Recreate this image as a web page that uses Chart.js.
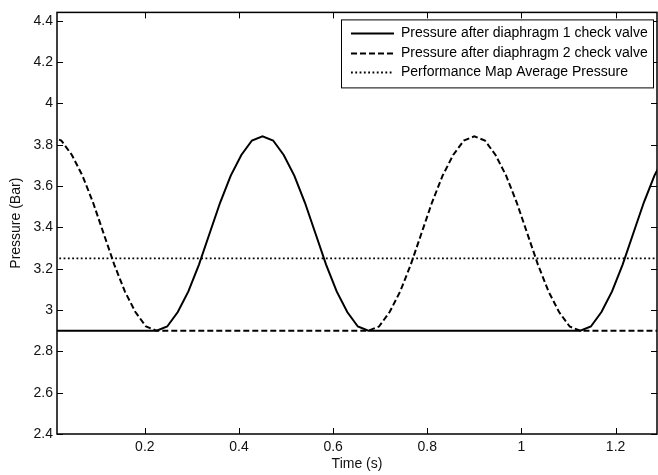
<!DOCTYPE html>
<html>
<head>
<meta charset="utf-8">
<script src="https://cdn.jsdelivr.net/npm/chart.js@4.4.0/dist/chart.umd.min.js"></script>
<style>
    body { margin: 0; background: #fff; }
    #wrap { width: 658px; height: 475px; }
</style>
</head>
<body>
<div id="wrap"><canvas id="chartPressure" width="658" height="475"></canvas></div>
<script>
// Tiempo (s)
const tiempo = [
    0, 0.0225, 0.045, 0.0675, 0.09, 0.1125, 0.135, 0.1575, 0.18, 0.2025,
    0.225, 0.2475, 0.27, 0.2925, 0.315, 0.3375, 0.36, 0.3825, 0.405, 0.4275,
    0.45, 0.4725, 0.495, 0.5175, 0.54, 0.5625, 0.585, 0.6075, 0.63, 0.6525,
    0.675, 0.6975, 0.72, 0.7425, 0.765, 0.7875, 0.81, 0.8325, 0.855, 0.8775,
    0.9, 0.9225, 0.945, 0.9675, 0.99, 1.0125, 1.035, 1.0575, 1.08, 1.1025,
    1.125, 1.1475, 1.17, 1.1925, 1.215, 1.2375, 1.26, 1.2825, 1.305
];

// Presion despues de la valvula del diafragma 1 (Bar)
const presionDiafragma1 = [
    2.90, 2.90, 2.90, 2.90, 2.90, 2.90, 2.90, 2.90, 2.90, 2.90,
    2.90, 2.92, 2.99, 3.09, 3.22, 3.37, 3.52, 3.65, 3.75, 3.82,
    3.84, 3.82, 3.75, 3.65, 3.52, 3.37, 3.22, 3.09, 2.99, 2.92,
    2.90, 2.90, 2.90, 2.90, 2.90, 2.90, 2.90, 2.90, 2.90, 2.90,
    2.90, 2.90, 2.90, 2.90, 2.90, 2.90, 2.90, 2.90, 2.90, 2.90,
    2.90, 2.92, 2.99, 3.09, 3.22, 3.37, 3.52, 3.65, 3.75
];

// Presion despues de la valvula del diafragma 2 (Bar)
const presionDiafragma2 = [
    3.84, 3.82, 3.75, 3.65, 3.52, 3.37, 3.22, 3.09, 2.99, 2.92,
    2.90, 2.90, 2.90, 2.90, 2.90, 2.90, 2.90, 2.90, 2.90, 2.90,
    2.90, 2.90, 2.90, 2.90, 2.90, 2.90, 2.90, 2.90, 2.90, 2.90,
    2.90, 2.92, 2.99, 3.09, 3.22, 3.37, 3.52, 3.65, 3.75, 3.82,
    3.84, 3.82, 3.75, 3.65, 3.52, 3.37, 3.22, 3.09, 2.99, 2.92,
    2.90, 2.90, 2.90, 2.90, 2.90, 2.90, 2.90, 2.90, 2.90
];

// Presion media del mapa de rendimiento
const tiempoPromedio = [0, 1.305];
const presionPromedio = [3.25, 3.25];

// Ticks de los ejes
const ticksX = [0.2, 0.4, 0.6, 0.8, 1, 1.2];
const ticksY = [2.4, 2.6, 2.8, 3, 3.2, 3.4, 3.6, 3.8, 4, 4.2, 4.4];

const fuente = { family: '"Liberation Sans", Arial, Helvetica, sans-serif', size: 14 };

const puntos = (xs, ys) => xs.map((x, i) => ({ x: x, y: ys[i] }));
// Etiquetas sin ceros sobrantes (3 en vez de 3.0)
const etiqueta = v => String(parseFloat(Number(v).toFixed(2)));

// Marco y ticks hacia dentro (estilo MATLAB)
const marcoMatlab = {
    id: 'marcoMatlab',
    afterDatasetsDraw(chart) {
        const { ctx, chartArea: a, scales: { x, y } } = chart;
        const linea = (x1, y1, x2, y2) => {
            ctx.beginPath();
            ctx.moveTo(x1, y1);
            ctx.lineTo(x2, y2);
            ctx.stroke();
        };
        ctx.save();
        ctx.strokeStyle = '#000';
        ctx.lineWidth = 1.5;
        ctx.strokeRect(a.left, a.top, a.right - a.left, a.bottom - a.top);
        ctx.lineWidth = 1;
        x.ticks.forEach(t => {
            const px = Math.round(x.getPixelForValue(t.value)) + 0.5;
            linea(px, a.bottom, px, a.bottom - 6);
            linea(px, a.top, px, a.top + 6);
        });
        y.ticks.forEach(t => {
            const py = Math.round(y.getPixelForValue(t.value)) + 0.5;
            linea(a.left, py, a.left + 6, py);
            linea(a.right, py, a.right - 6, py);
        });
        ctx.restore();
    }
};

// Leyenda dentro del area del grafico
const leyendaMatlab = {
    id: 'leyendaMatlab',
    afterDraw(chart) {
        const { ctx, chartArea: a } = chart;
        const sets = chart.data.datasets;
        ctx.save();
        ctx.font = '14px "Liberation Sans", Arial, Helvetica, sans-serif';
        const anchoTexto = Math.max(...sets.map(d => ctx.measureText(d.label).width));
        const derecha = a.right - 4;
        const arriba = a.top + 7;
        const izquierda = Math.round(derecha - (anchoTexto + 65));
        const alto = 68;
        ctx.fillStyle = '#fff';
        ctx.fillRect(izquierda, arriba, derecha - izquierda, alto);
        ctx.strokeStyle = '#000';
        ctx.lineWidth = 1;
        ctx.strokeRect(izquierda + 0.5, arriba + 0.5, derecha - izquierda, alto);
        sets.forEach((d, i) => {
            const yy = Math.round(arriba + 14 + i * 19.5) + 0.5;
            ctx.setLineDash(d.borderDash || []);
            ctx.lineWidth = d.borderWidth;
            ctx.beginPath();
            ctx.moveTo(izquierda + 10, yy);
            ctx.lineTo(izquierda + 53, yy);
            ctx.stroke();
            ctx.setLineDash([]);
            ctx.fillStyle = '#000';
            ctx.textBaseline = 'middle';
            ctx.fillText(d.label, izquierda + 60, yy);
        });
        ctx.restore();
    }
};

const ctx = document.getElementById('chartPressure').getContext('2d');
const chart = new Chart(ctx, {
    type: 'line',
    data: {
        datasets: [
            {
                label: 'Pressure after diaphragm 1 check valve',
                data: puntos(tiempo, presionDiafragma1),
                borderColor: '#000',
                borderWidth: 2,
                pointRadius: 0,
                tension: 0,
                fill: false,
                clip: 0
            },
            {
                label: 'Pressure after diaphragm 2 check valve',
                data: puntos(tiempo, presionDiafragma2),
                borderColor: '#000',
                borderWidth: 2,
                borderDash: [6, 3],
                pointRadius: 0,
                tension: 0,
                fill: false,
                clip: 0
            },
            {
                label: 'Performance Map Average Pressure',
                data: puntos(tiempoPromedio, presionPromedio),
                borderColor: '#000',
                borderWidth: 1.8,
                borderDash: [1.8, 2.5],
                pointRadius: 0,
                tension: 0,
                fill: false,
                clip: 0
            }
        ]
    },
    options: {
        responsive: false,
        animation: false,
        devicePixelRatio: 1,
        layout: { padding: { top: 7, right: 1, left: 0, bottom: 0 } },
        plugins: {
            legend: { display: false },
            tooltip: { enabled: false }
        },
        scales: {
            x: {
                type: 'linear',
                min: 0.0134,
                max: 1.288,
                afterBuildTicks: s => { s.ticks = ticksX.map(v => ({ value: v })); },
                afterFit: s => { s.height = 41; },
                ticks: { font: fuente, color: '#111', padding: 5, maxRotation: 0, autoSkip: false, callback: etiqueta },
                grid: { display: false, drawTicks: false },
                border: { display: false },
                title: { display: true, text: 'Time (s)', font: fuente, color: '#111', padding: { top: 0, bottom: 2 } }
            },
            y: {
                min: 2.4,
                max: 4.44,
                afterBuildTicks: s => { s.ticks = ticksY.map(v => ({ value: v })); },
                afterFit: s => { s.width = 57; },
                ticks: { font: fuente, color: '#111', padding: 4, autoSkip: false, callback: etiqueta },
                grid: { display: false, drawTicks: false },
                border: { display: false },
                title: { display: true, text: 'Pressure (Bar)', font: fuente, color: '#111', padding: 8 }
            }
        }
    },
    plugins: [marcoMatlab, leyendaMatlab]
});
</script>
</body>
</html>
